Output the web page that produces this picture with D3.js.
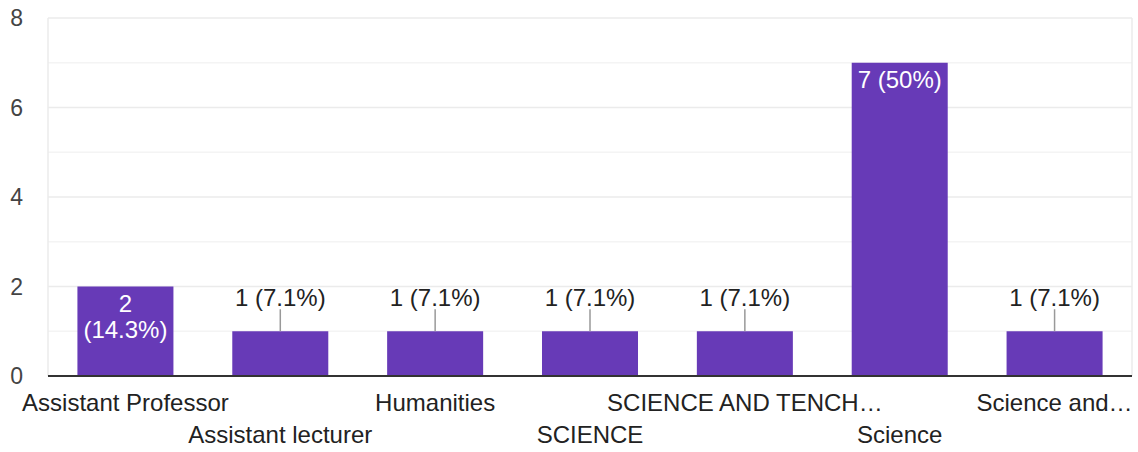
<!DOCTYPE html>
<html>
<head>
<meta charset="utf-8">
<script src="https://cdn.jsdelivr.net/npm/d3@7"></script>
<style>
  body { margin: 0; background: #fff; }
  svg { display: block; font-family: Arial, "Liberation Sans", sans-serif; }
</style>
</head>
<body>
<svg id="chart" width="1138" height="452"></svg>
<script>
// data
const categories = ["Assistant Professor", "Assistant lecturer", "Humanities", "SCIENCE",
                    "SCIENCE AND TENCH\u2026", "Science", "Science and\u2026"];
const counts = [2, 1, 1, 1, 1, 7, 1];
const percents = ["14.3%", "7.1%", "7.1%", "7.1%", "7.1%", "50%", "7.1%"];
const yTicks = [0, 2, 4, 6, 8];
const yMinor = [1, 3, 5, 7];

const svg = d3.select("#chart");
const plotL = 48, plotR = 1132, plotT = 18, plotB = 376;
const purple = "#673ab7";

const x = d3.scaleBand().domain(categories).range([plotL, plotR]).paddingInner(0.38).paddingOuter(0.19);
const y = d3.scaleLinear().domain([0, 8]).range([plotB, plotT]);

const rows = categories.map((c, i) => ({ cat: c, v: counts[i], pct: percents[i], i }));

// grid
const grid = svg.append("g");
grid.selectAll("line.minor").data(yMinor).enter().append("line")
    .attr("x1", plotL).attr("x2", plotR)
    .attr("y1", d => y(d)).attr("y2", d => y(d))
    .attr("stroke", "#f4f4f4").attr("stroke-width", 1.5);
grid.selectAll("line.major").data(yTicks.filter(d => d > 0)).enter().append("line")
    .attr("x1", plotL).attr("x2", plotR)
    .attr("y1", d => y(d)).attr("y2", d => y(d))
    .attr("stroke", "#ebebeb").attr("stroke-width", 1.5);
grid.selectAll("line.v").data([plotL, plotR]).enter().append("line")
    .attr("x1", d => d).attr("x2", d => d)
    .attr("y1", plotT).attr("y2", plotB)
    .attr("stroke", "#ebebeb").attr("stroke-width", 1.5);

// y tick labels
svg.append("g").selectAll("text").data(yTicks).enter().append("text")
    .attr("x", 23).attr("y", d => y(d) + 8)
    .attr("text-anchor", "end")
    .attr("font-size", 23).attr("fill", "#444")
    .text(d => d);

// bars
svg.append("g").selectAll("rect").data(rows).enter().append("rect")
    .attr("x", d => x(d.cat)).attr("width", x.bandwidth())
    .attr("y", d => y(d.v)).attr("height", d => y(0) - y(d.v))
    .attr("fill", purple);

// baseline
svg.append("line")
    .attr("x1", plotL).attr("x2", plotR)
    .attr("y1", plotB).attr("y2", plotB)
    .attr("stroke", "#333").attr("stroke-width", 2);

// value labels
const lab = svg.append("g").attr("font-size", 24).attr("text-anchor", "middle");
rows.forEach(d => {
    const cx = x(d.cat) + x.bandwidth() / 2;
    if (d.v === 1) {
        lab.append("line")
            .attr("x1", cx).attr("x2", cx)
            .attr("y1", y(d.v)).attr("y2", y(d.v) - 22)
            .attr("stroke", "#999").attr("stroke-width", 1.5);
        lab.append("text").attr("x", cx).attr("y", y(d.v) - 25)
            .attr("fill", "#222").text(`${d.v} (${d.pct})`);
    } else if (d.v === 2) {
        lab.append("text").attr("x", cx).attr("y", y(d.v) + 25)
            .attr("fill", "#fff").text(d.v);
        lab.append("text").attr("x", cx).attr("y", y(d.v) + 51)
            .attr("fill", "#fff").text(`(${d.pct})`);
    } else {
        lab.append("text").attr("x", cx).attr("y", y(d.v) + 25)
            .attr("fill", "#fff").text(`${d.v} (${d.pct})`);
    }
});

// x labels, staggered in two rows
svg.append("g").selectAll("text").data(rows).enter().append("text")
    .attr("x", d => x(d.cat) + x.bandwidth() / 2)
    .attr("y", d => d.i % 2 === 0 ? 411 : 443)
    .attr("text-anchor", "middle")
    .attr("font-size", 24).attr("fill", "#222")
    .text(d => d.cat);
</script>
</body>
</html>
